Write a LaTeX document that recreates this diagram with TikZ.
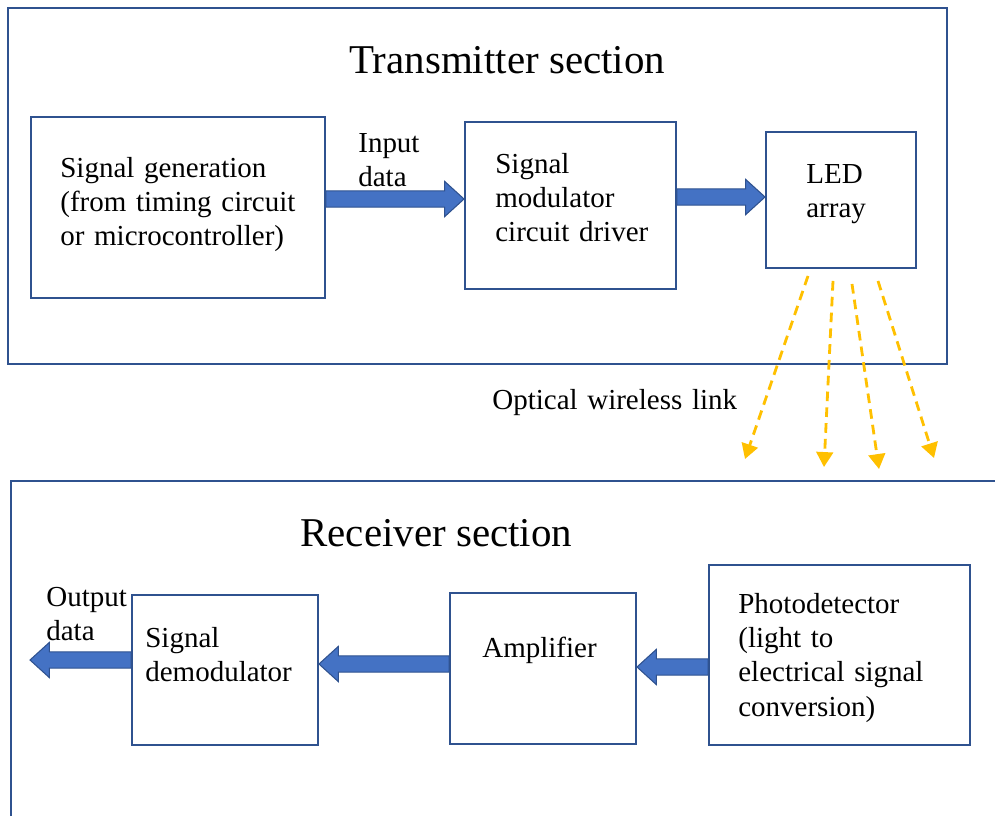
\documentclass[tikz,border=0pt]{standalone}
\usepackage{fontspec}
\setmainfont{Liberation Serif}
\usetikzlibrary{calc,arrows.meta}

\definecolor{boxblue}{HTML}{2F528F}
\definecolor{arrowblue}{HTML}{4472C4}
\definecolor{rayorange}{HTML}{FFC000}

\newcommand\px{0.02cm}
\newcommand\bodysize{\fontsize{16.5}{19.6}\selectfont}
\newcommand\titlesize{\fontsize{23.3}{28}\selectfont}

\tikzset{
    section/.style={draw=boxblue, line width=1.4pt},
    block/.style={draw=boxblue, line width=1.1pt, fill=white, inner sep=0pt},
    txt/.style={font=\bodysize, align=left, text width=6cm, anchor=base west,
        inner sep=0pt},
    heading/.style={font=\titlesize, anchor=base west, inner sep=0pt},
    blockarrow/.style={fill=arrowblue, draw=boxblue, line width=0.6pt,
        to path={let \p1=(\tikztostart), \p2=(\tikztotarget),
            \n1={sign(\x2-\x1)} in
            (\x1,{\y1+4.6pt}) -- ({\x2-(\n1)*11pt},{\y1+4.6pt})
            -- ({\x2-(\n1)*11pt},{\y1+10pt}) -- (\x2,\y1)
            -- ({\x2-(\n1)*11pt},{\y1-10pt})
            -- ({\x2-(\n1)*11pt},{\y1-4.6pt}) -- (\x1,{\y1-4.6pt})
            -- cycle}},
    ray/.style={draw=rayorange, line width=1.6pt,
        dash pattern=on 5.5pt off 3.5pt, -{Triangle[width=9.5pt,length=8.5pt]}}
}

\begin{document}
\begin{tikzpicture}[x=0.02cm, y=-0.02cm]
            \useasboundingbox (0,0) rectangle (995,816);
            \draw [section] (8,8) rectangle (947,364);
            \draw [section] (11,816) -- (11,481) -- (995,481);

            \node [heading] (txtitle) at (349,73) {Transmitter section};
            \node [heading] (rxtitle) at (300,546) {Receiver section};

            \node [block, minimum width=294*\px, minimum height=181*\px]
                (siggen) at (178,207.5) {};
            \node [block, minimum width=211*\px, minimum height=167*\px]
                (modulator) at (570.5,205.5) {};
            \node [block, minimum width=150*\px, minimum height=136*\px]
                (led) at (841,200) {};
            \node [block, minimum width=261*\px, minimum height=180*\px]
                (photo) at (839.5,655) {};
            \node [block, minimum width=186*\px, minimum height=151*\px]
                (amp) at (543,668.5) {};
            \node [block, minimum width=186*\px, minimum height=150*\px]
                (demod) at (225,670) {};

            \node [txt] (siggentext) at (60,177)
                {Signal generation\\(from timing circuit\\or microcontroller)};
            \node [txt] (inputlabel) at (358,152) {Input\\data};
            \node [txt] (modtext) at (495,173) {Signal\\modulator\\circuit driver};
            \node [txt] (ledtext) at (806,183) {LED\\array};
            \node [txt] (linklabel) at (492,409) {Optical wireless link};
            \node [txt] (phototext) at (738,613)
                {Photodetector\\(light to\\electrical signal\\conversion)};
            \node [txt] (amptext) at (482,657) {Amplifier};
            \node [txt] (demodtext) at (145,647) {Signal\\demodulator};
            \node [txt] (outputlabel) at (46,606) {Output\\data};

            \coordinate (outend) at (30,660);
            \draw [blockarrow] ([yshift=0.17cm]siggen.east) to (modulator.west);
            \draw [blockarrow] ([yshift=0.17cm]modulator.east) to (led.west);
            \draw [blockarrow] ([yshift=-0.24cm]photo.west) to (amp.east);
            \draw [blockarrow] ([yshift=0.09cm]amp.west) to (demod.east);
            \draw [blockarrow] ([yshift=0.2cm]demod.west) to (outend);

            \coordinate (rayA) at (745,459);
            \coordinate (rayB) at (824,467);
            \coordinate (rayC) at (879,469);
            \coordinate (rayD) at (934,458);
            \draw [ray] ($(led.south)+(-33,7)$) -- (rayA);
            \draw [ray] ($(led.south)+(-8,12)$) -- (rayB);
            \draw [ray] ($(led.south)+(11,15)$) -- (rayC);
            \draw [ray] ($(led.south)+(37,12)$) -- (rayD);
        \end{tikzpicture}
\end{document}
